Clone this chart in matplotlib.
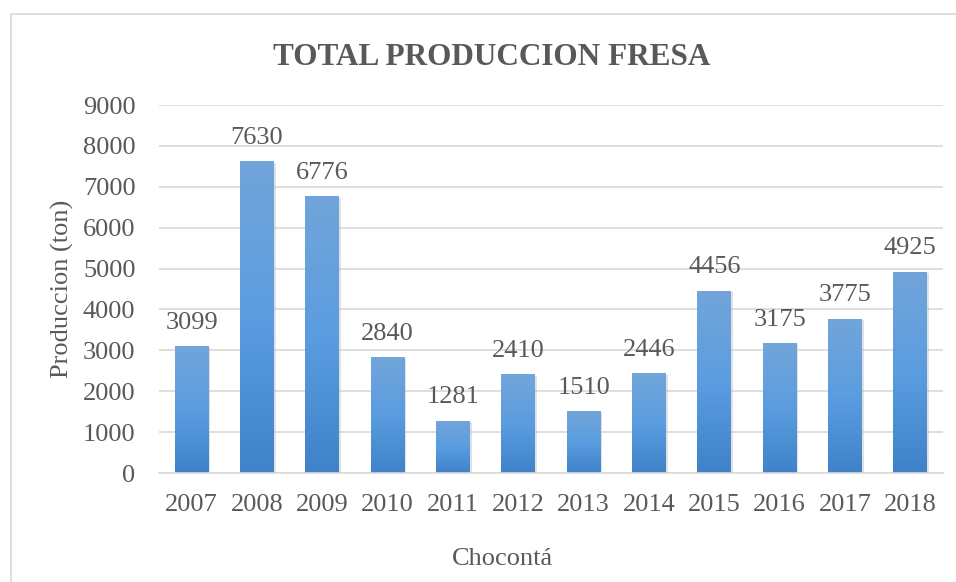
import matplotlib.pyplot as plt
import matplotlib.patches as patches
from matplotlib.colors import LinearSegmentedColormap
import numpy as np

years = ['2007', '2008', '2009', '2010', '2011', '2012', '2013', '2014', '2015', '2016', '2017', '2018']
produccion = [3099, 7630, 6776, 2840, 1281, 2410, 1510, 2446, 4456, 3175, 3775, 4925]

plt.rcParams['font.family'] = ['Liberation Serif', 'DejaVu Serif']
grey = '#595959'
W, H = 956, 582

fig = plt.figure(figsize=(W / 100, H / 100), dpi=100)
# chart border (runs off the right and bottom of the image)
fig.patches.append(patches.Rectangle((11 / W, -0.1), 2.0, 1 - 14 / H + 0.1,
                                     transform=fig.transFigure, fill=False,
                                     edgecolor='#d9d9d9', linewidth=1.2))

ax = fig.add_axes([159 / W, 1 - 473 / H, (943 - 159) / W, (473 - 105) / H])

x = np.arange(len(years))
bars = ax.bar(x, produccion, width=0.52, color='#5b9bd5', zorder=2)

# vertical gradient inside each bar, soft shadow behind
cmap = LinearSegmentedColormap.from_list('blues', ['#3f82c8', '#5b9de0', '#72a5da'])
grad = np.linspace(0, 1, 256).reshape(-1, 1)
for b in bars:
    bx, by, bw, bh = b.get_x(), b.get_y(), b.get_width(), b.get_height()
    ax.add_patch(patches.Rectangle((bx + 0.025, by), bw, bh - 40, facecolor='#bdbdbd',
                                   edgecolor='none', zorder=1.5, alpha=0.45))
    im = ax.imshow(grad, extent=[bx, bx + bw, by, by + bh], origin='lower',
                   cmap=cmap, aspect='auto', zorder=2.5)
    im.set_clip_path(b)
    ax.annotate(str(int(bh)), (bx + bw / 2, by + bh), xytext=(0, 12.5),
                textcoords='offset points', ha='center', va='baseline',
                fontsize=19, color=grey)

ax.set_xlim(-0.5, len(years) - 0.5)
ax.set_ylim(0, 9000)
ax.set_yticks(range(0, 9001, 1000))
ax.set_xticks(x)
ax.set_xticklabels(years)
ax.yaxis.grid(True, color='#d9d9d9', linewidth=1.2, zorder=0)
ax.set_axisbelow(True)
for s in ['top', 'right', 'left']:
    ax.spines[s].set_visible(False)
ax.spines['bottom'].set_color('#d9d9d9')
ax.spines['bottom'].set_linewidth(1.2)
ax.tick_params(axis='both', length=0, labelsize=19, labelcolor=grey)
ax.tick_params(axis='y', pad=17)
ax.tick_params(axis='x', pad=15)

fig.text(62 / W, 1 - 289 / H, 'Produccion (ton)', rotation=90, ha='center', va='center',
         fontsize=19, color=grey)
fig.text(502 / W, 1 - 565 / H, 'Chocontá', ha='center', va='baseline',
         fontsize=19, color=grey)
fig.text(492 / W, 1 - 65 / H, 'TOTAL PRODUCCION FRESA', ha='center', va='baseline',
         fontsize=22.5, fontweight='bold', color=grey)

fig.savefig('out.png', dpi=100)
